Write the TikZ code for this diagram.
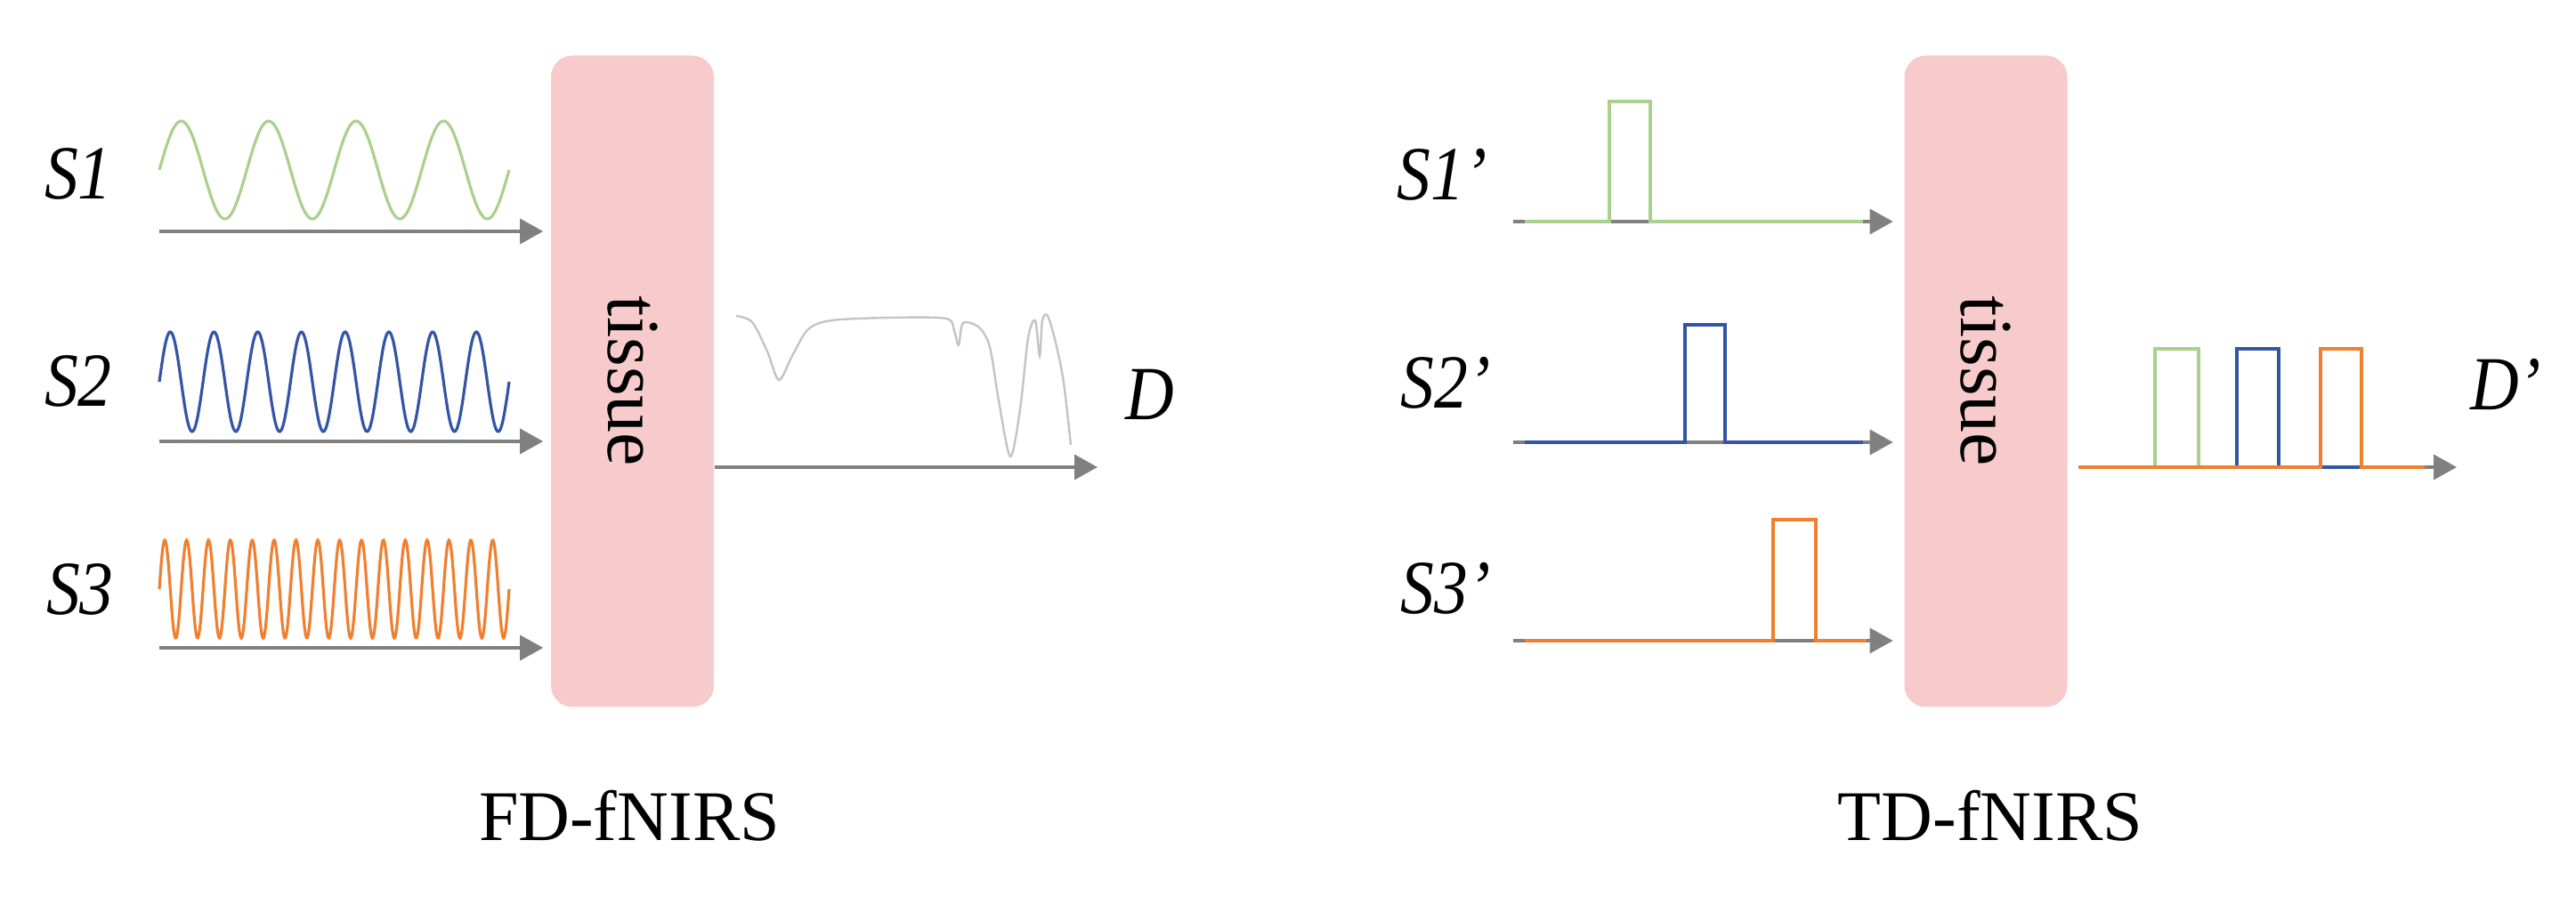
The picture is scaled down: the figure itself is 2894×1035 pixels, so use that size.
\documentclass[tikz,border=0pt]{standalone}
\usepackage{fontspec}
\setmainfont{Liberation Serif}
\usetikzlibrary{arrows.meta}
\definecolor{tissuepink}{HTML}{F7CBCB}
\definecolor{sgreen}{HTML}{A9D18E}
\definecolor{sblue}{HTML}{3355A5}
\definecolor{sorange}{HTML}{F08030}
\definecolor{axisgray}{HTML}{808080}
\definecolor{specgray}{HTML}{C4C4C4}
\begin{document}
\begin{tikzpicture}[x=0.25pt, y=-0.25pt,
  tissue/.style={fill=tissuepink, rounded corners=6pt, minimum width=45.75pt, minimum height=183pt, inner sep=0pt, font=\fontsize{21pt}{25pt}\selectfont},
  src/.style={font=\fontsize{21.5pt}{25pt}\selectfont\itshape, inner sep=0pt, xscale=0.88, transform shape},
  captext/.style={font=\fontsize{20pt}{24pt}\selectfont, inner sep=0pt},
  axis/.style={draw=axisgray, line width=0.9pt, -{Triangle[length=6.5pt, width=7pt, fill=axisgray]}, shorten >=2pt},
  wave/.style={line width=0.8pt},
  pulse/.style={line width=1.1pt}]
\useasboundingbox (0,0) rectangle (2894,1035);

\node[tissue] (fdt) at (710.5,428.5) {\rotatebox{-90}{tissue}};
\node[tissue] (tdt) at (2231,428.5) {\rotatebox{-90}{tissue}};

\node[src] (s1) at (88,195) {S1};
\node[src] (s2) at (88,428) {S2};
\node[src] (s3) at (90,662) {S3};
\node[src] (d) at (1292,443) {D};
\node[src] (s1p) at (1620,196) {S1’};
\node[src] (s2p) at (1624,430) {S2’};
\node[src] (s3p) at (1624,661) {S3’};
\node[src] (dp) at (2815,432) {D’};
\node[captext] (fd) at (707,917) {FD-fNIRS};
\node[captext] (td) at (2236,917) {TD-fNIRS};

\coordinate (a1) at (179,260);
\coordinate (a2) at (179,496);
\coordinate (a3) at (179,728);
\coordinate (dend) at (1233,525);
\draw[axis] (a1) -- (a1 -| fdt.west);
\draw[axis] (a2) -- (a2 -| fdt.west);
\draw[axis] (a3) -- (a3 -| fdt.west);
\draw[axis, shorten >=0pt] (fdt.east |- dend) -- (dend);

\draw[wave, sgreen] plot[domain=0:393, samples=200, smooth] (179+\x, {191-55*sin(\x/393*1440)});
\draw[wave, sblue] plot[domain=0:393, samples=300, smooth] (179+\x, {429-56*sin(\x/393*2880)});
\draw[wave, sorange] plot[domain=0:393, samples=500, smooth] (179+\x, {662-55*sin(\x/393*5760)});
\draw[specgray, line width=0.6pt] plot[smooth, tension=0.5] coordinates {(827,355) (845,362) (862,395) (875,427) (890,400) (908,370) (935,360) (1000,357) (1063,358) (1072,372) (1077,388) (1082,363) (1100,368) (1112,390) (1122,450) (1135,513) (1146,460) (1155,380) (1163,360) (1168,400) (1171,360) (1177,355) (1186,385) (1195,430) (1203,500)};

\coordinate (b1) at (1700,249);
\coordinate (b2) at (1700,497);
\coordinate (b3) at (1700,720);
\coordinate (dpend) at (2760,525);
\draw[axis, shorten >=3pt] (b1) -- (b1 -| tdt.west);
\draw[axis, shorten >=3pt] (b2) -- (b2 -| tdt.west);
\draw[axis, shorten >=3pt] (b3) -- (b3 -| tdt.west);
\draw[axis, shorten >=0pt, shorten <=3pt] (tdt.east |- dpend) -- (dpend);

\draw[pulse, sgreen] (1713,249) -| (1808,114) -| (1854,249) -- (2093,249);
\draw[pulse, sblue] (1713,497) -| (1893,365) -| (1938,497) -- (2093,497);
\draw[pulse, sorange] (1713,720) -| (1992,584) -| (2040,720) -- (2097,720);
\draw[pulse, sgreen] (2335,525) -| (2421,392) -| (2470,525) -- (2724,525);
\draw[pulse, sblue] (2335,525) -| (2513,392) -| (2560,525) -- (2724,525);
\draw[pulse, sorange] (2335,525) -| (2607,392) -| (2653,525) -- (2724,525);
\end{tikzpicture}
\end{document}
